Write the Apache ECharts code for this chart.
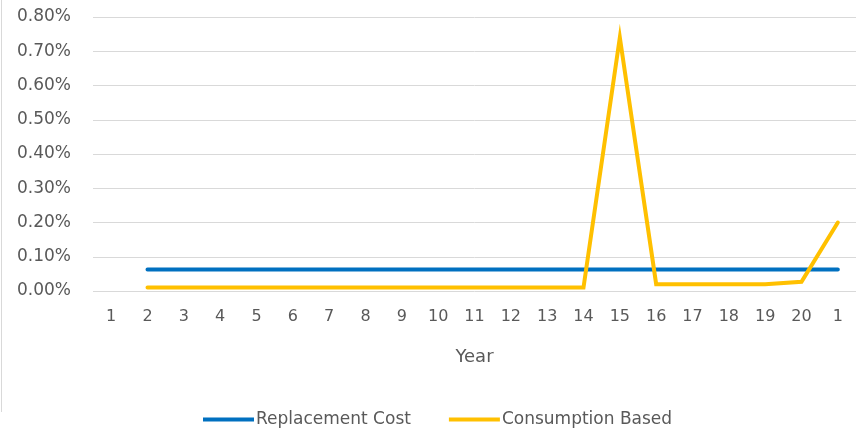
<!DOCTYPE html>
<html>
<head>
<meta charset="utf-8">
<script src="https://cdn.jsdelivr.net/npm/echarts@6/dist/echarts.min.js"></script>
<style>
  html, body { margin: 0; padding: 0; background: #fff; }
  #chart { width: 868px; height: 433px; }
</style>
</head>
<body>
<div id="chart"></div>
<script>
// Year labels along the x axis
const years = ['1','2','3','4','5','6','7','8','9','10','11','12','13','14','15','16','17','18','19','20','1'];
// Rates in percent
const replacementCost = [null,0.063,0.063,0.063,0.063,0.063,0.063,0.063,0.063,0.063,0.063,0.063,0.063,0.063,0.063,0.063,0.063,0.063,0.063,0.063,0.063];
const consumptionBased = [null,0.01,0.01,0.01,0.01,0.01,0.01,0.01,0.01,0.01,0.01,0.01,0.01,0.01,0.74,0.02,0.02,0.02,0.02,0.027,0.20];

const textColor = '#595959';
const font = '"DejaVu Sans", Verdana, sans-serif';

const chart = echarts.init(document.getElementById('chart'));
chart.setOption({
  animation: false,
  textStyle: { fontFamily: font },
  graphic: [{
    type: 'line',
    shape: { x1: 1.5, y1: 0, x2: 1.5, y2: 412 },
    style: { stroke: '#d9d9d9', lineWidth: 1 }
  }],
  grid: { left: 93, right: 12, top: 17, bottom: 142 },
  legend: {
    top: 406,
    left: 198,
    itemWidth: 51,
    itemHeight: 4,
    itemGap: 38,
    icon: 'rect',
    textStyle: { color: textColor, fontSize: 17, fontFamily: font, padding: [0, 0, 0, -3] },
    data: ['Replacement Cost', 'Consumption Based']
  },
  xAxis: {
    type: 'category',
    data: years,
    boundaryGap: true,
    name: 'Year',
    nameLocation: 'middle',
    nameGap: 57,
    nameTextStyle: { color: textColor, fontSize: 18 },
    axisLine: { show: false },
    axisTick: { show: false },
    axisLabel: { color: textColor, fontSize: 16, margin: 18 }
  },
  yAxis: {
    type: 'value',
    min: 0,
    max: 0.8,
    interval: 0.1,
    axisLine: { show: false },
    axisTick: { show: false },
    splitLine: { lineStyle: { color: '#d9d9d9', width: 1 } },
    axisLabel: {
      color: textColor,
      fontSize: 17,
      margin: 22,
      formatter: v => v.toFixed(2) + '%'
    }
  },
  series: [
    {
      name: 'Replacement Cost',
      type: 'line',
      data: replacementCost,
      symbol: 'none',
      lineStyle: { color: '#0070C0', width: 4, cap: 'round' },
      itemStyle: { color: '#0070C0' }
    },
    {
      name: 'Consumption Based',
      type: 'line',
      data: consumptionBased,
      symbol: 'none',
      lineStyle: { color: '#FFC000', width: 4, cap: 'round', join: 'miter' },
      itemStyle: { color: '#FFC000' }
    }
  ]
});
</script>
</body>
</html>
